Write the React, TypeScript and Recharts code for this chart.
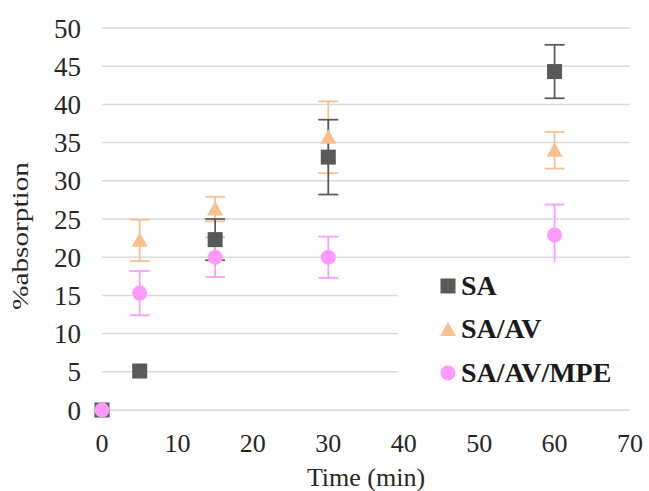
import React from 'react';
import {
  ScatterChart,
  Scatter,
  XAxis,
  YAxis,
  CartesianGrid,
  ErrorBar,
  Legend,
  Label,
} from 'recharts';

// Data
const times = [0, 5, 15, 30, 60];
const saValues = [0, 5.1, 22.3, 33.1, 44.3];
const saErr = [0, 0, 2.7, 4.9, 3.5];
const savValues = [0, 22.2, 26.3, 35.7, 34.0];
const savErr = [0, 2.7, 1.6, 4.7, 2.4];
const mpeValues = [0, 15.3, 20.0, 20.0, 22.9];
const mpeErr = [0, 2.9, 2.6, 2.7, 4.0];

const xTicks = [0, 10, 20, 30, 40, 50, 60, 70];
const yTicks = [0, 5, 10, 15, 20, 25, 30, 35, 40, 45, 50];

const seriesNames = ['SA', 'SA/AV', 'SA/AV/MPE'];

const SA_COLOR = '#595959';
const SAV_COLOR = '#F9BF8F';
const MPE_COLOR = '#FF99FF';

const FONT = '"Liberation Serif", "Times New Roman", serif';
const TEXT_COLOR = '#262626';

const toPoints = (vals: number[], errs: number[]) =>
  times.map((t, i) => ({ x: t, y: vals[i], err: errs[i] }));

const saData = toPoints(saValues, saErr);
const savData = toPoints(savValues, savErr);
const mpeData = toPoints(mpeValues, mpeErr);

// Marker shapes
const SquareShape = (props: any) => {
  const { cx, cy } = props;
  return <rect x={cx - 7.5} y={cy - 7.5} width={15} height={15} fill={SA_COLOR} />;
};

const TriangleShape = (props: any) => {
  const { cx, cy } = props;
  const s = 8;
  return (
    <polygon
      points={`${cx},${cy - s} ${cx - s},${cy + s * 0.8} ${cx + s},${cy + s * 0.8}`}
      fill={SAV_COLOR}
    />
  );
};

const CircleShape = (props: any) => {
  const { cx, cy } = props;
  return <circle cx={cx} cy={cy} r={7.5} fill={MPE_COLOR} />;
};

const LegendMarker = ({ kind }: { kind: number }) => (
  <svg width={18} height={18} style={{ display: 'block' }}>
    {kind === 0 && <rect x={1.5} y={1.5} width={15} height={15} fill={SA_COLOR} />}
    {kind === 1 && <polygon points="9,2 1,16 17,16" fill={SAV_COLOR} />}
    {kind === 2 && <circle cx={9} cy={9} r={7.5} fill={MPE_COLOR} />}
  </svg>
);

const renderLegend = () => (
  <div style={{ position: 'relative', width: '100%', height: '100%' }}>
    {seriesNames.map((name, i) => (
      <div
        key={name}
        style={{
          position: 'absolute',
          left: 41,
          top: [24, 67, 111][i] - 15,
          height: 30,
          display: 'flex',
          alignItems: 'center',
        }}
      >
        <LegendMarker kind={i} />
        <span
          style={{
            marginLeft: 4,
            fontFamily: FONT,
            fontWeight: 'bold',
            fontSize: 28,
            color: '#1a1a1a',
            lineHeight: '30px',
            whiteSpace: 'nowrap',
          }}
        >
          {name}
        </span>
      </div>
    ))}
  </div>
);

export default function App() {
  return (
    <div style={{ position: 'absolute', left: 0, top: 0, width: 649, height: 491, background: '#fff' }}>
      <ScatterChart
        width={649}
        height={491}
        margin={{ top: 28, right: 19, bottom: 0, left: 40 }}
      >
        <CartesianGrid vertical={false} stroke="#D9D9D9" strokeWidth={1.5} />
        <XAxis
          type="number"
          dataKey="x"
          domain={[0, 70]}
          ticks={xTicks}
          axisLine={false}
          tickLine={false}
          tickSize={0}
          tickMargin={24}
          height={81}
          tick={{ fontFamily: FONT, fontSize: 26, fill: TEXT_COLOR }}
        >
          <Label
            content={() => (
              <text
                x={366}
                y={486}
                textAnchor="middle"
                fontFamily={FONT}
                fontSize={26}
                fill={TEXT_COLOR}
              >
                Time (min)
              </text>
            )}
          />
        </XAxis>
        <YAxis
          type="number"
          dataKey="y"
          domain={[0, 50]}
          ticks={yTicks}
          axisLine={false}
          tickLine={false}
          tickSize={0}
          tickMargin={21}
          width={62}
          tick={{ fontFamily: FONT, fontSize: 27, fill: TEXT_COLOR }}
        >
          <Label
            content={() => (
              <text
                x={28}
                y={236}
                textAnchor="middle"
                transform="rotate(-90 28 236)"
                fontFamily={FONT}
                fontSize={24}
                textLength={148}
                lengthAdjust="spacingAndGlyphs"
                fill={TEXT_COLOR}
              >
                %absorption
              </text>
            )}
          />
        </YAxis>
        <Legend
          layout="horizontal"
          verticalAlign="middle"
          align="center"
          wrapperStyle={{ position: 'absolute', left: 398, top: 262, width: 232, height: 138, background: '#fff' }}
          content={renderLegend}
        />
        <Scatter name="SA/AV" data={savData} shape={<TriangleShape />} isAnimationActive={false}>
          <ErrorBar dataKey="err" direction="y" width={10} stroke={SAV_COLOR} strokeWidth={1.75} />
        </Scatter>
        <Scatter name="SA" data={saData} shape={<SquareShape />} isAnimationActive={false}>
          <ErrorBar dataKey="err" direction="y" width={10} stroke={SA_COLOR} strokeWidth={1.75} />
        </Scatter>
        <Scatter name="SA/AV/MPE" data={mpeData} shape={<CircleShape />} isAnimationActive={false}>
          <ErrorBar dataKey="err" direction="y" width={10} stroke={MPE_COLOR} strokeWidth={1.75} />
        </Scatter>
      </ScatterChart>
    </div>
  );
}
